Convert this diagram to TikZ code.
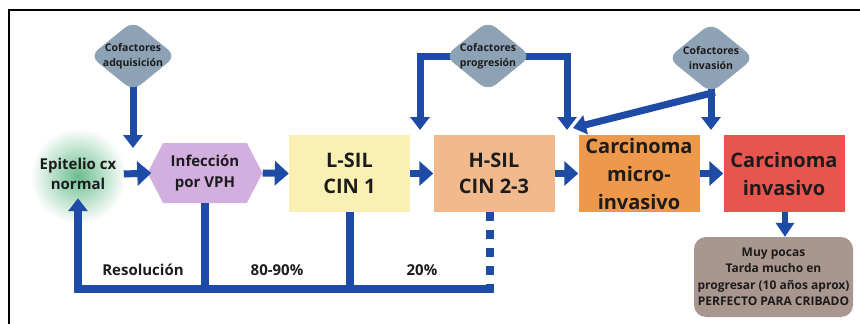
\documentclass[tikz,border=0pt]{standalone}
\usepackage{fontspec}
\setmainfont{Open Sans}
\usetikzlibrary{arrows.meta,shapes.geometric,shapes.symbols,backgrounds}

\definecolor{flowblue}{HTML}{1E4BA6}
\definecolor{cofgray}{HTML}{8EA2B6}
\definecolor{glowgreen}{HTML}{52B27D}
\definecolor{infviolet}{HTML}{D3AFE0}
\definecolor{lsilyellow}{HTML}{FAF0B3}
\definecolor{hsilpeach}{HTML}{F1B98C}
\definecolor{microorange}{HTML}{EE984B}
\definecolor{invared}{HTML}{E8554F}
\definecolor{notetaupe}{HTML}{A9968E}
\definecolor{ink}{HTML}{1C1C1C}

\tikzset{
  flow/.style={draw=flowblue, line width=7pt},
  hhead/.style={-{Triangle[width=24pt,length=14pt]}},
  vhead/.style={-{Triangle[width=19pt,length=13pt]}},
  cof/.style={diamond, fill=cofgray, rounded corners=10pt, aspect=1.23,
    inner xsep=-4pt, inner ysep=-2pt, minimum width=86pt, minimum height=70pt,
    align=center, text=ink, font=\fontsize{10.5}{15}\selectfont\bfseries},
  stage/.style={rectangle, minimum width=121pt, minimum height=77pt,
    inner sep=0pt, align=center, text=ink},
  lab/.style={text=ink, font=\fontsize{15}{20.5}\selectfont\bfseries},
}

\begin{document}
\begin{tikzpicture}[x=1pt,y=-1pt]
            \useasboundingbox (0,0) rectangle (860,324);
            \draw[line width=1.2pt] (9,324) -- (9,10) -- (860,10);

            % etapas
            \node[lab, align=center, minimum height=48pt] (epi) at (78,174) {Epitelio cx\\normal};
            \node[signal, signal to=west and east, signal pointer angle=125,
                  fill=infviolet, minimum width=115pt, minimum height=60pt, inner sep=0pt,
                  align=center, lab] (inf) at (205,173) {Infección\\por VPH};
            \node[stage, fill=lsilyellow, font=\fontsize{20}{26}\selectfont\bfseries] (lsil) at (349.5,173.5) {L-SIL\\CIN 1};
            \node[stage, fill=hsilpeach, font=\fontsize{20}{26}\selectfont\bfseries] (hsil) at (494,173.5) {H-SIL\\CIN 2-3};
            \node[stage, fill=microorange, font=\fontsize{20}{28}\selectfont\bfseries] (micro) at (639,173.5) {Carcinoma\\micro-\\invasivo};
            \node[stage, fill=invared, font=\fontsize{20}{28}\selectfont\bfseries] (inva) at (784,173.5) {Carcinoma\\invasivo};
            \node[rectangle, rounded corners=12pt, fill=notetaupe, minimum width=159pt, minimum height=80pt,
                  inner sep=0pt, align=center, text=ink, font=\fontsize{12}{16.5}\selectfont\bfseries]
                  (muy) at (773.5,277) {Muy pocas\\Tarda mucho en\\progresar (10 años aprox)\\PERFECTO PARA CRIBADO};

            % cofactores
            \node[cof] (cofa) at (133,56) {Cofactores\\adquisición};
            \node[cof] (cofp) at (488,56) {Cofactores\\progresión};
            \node[cof] (cofi) at (711,58) {Cofactores\\invasión};

            \coordinate (atip) at (133,148);
            \coordinate (pl) at (420,130);
            \coordinate (pr) at (567,130);
            \coordinate (itip) at (711,130);
            \coordinate (mtip) at (573,128);
            \coordinate (ret) at (494,289);

            \begin{scope}[on background layer]
                \shade[inner color=glowgreen!85, outer color=white] (78,176) circle (48pt);
                \draw[flow, vhead, shorten <=-6pt] (cofa.south) -- (atip);
                \draw[flow, vhead, shorten <=-6pt] (cofp.west) -| (pl);
                \draw[flow, vhead, shorten <=-6pt] (cofp.east) -| (pr);
                \draw[flow, vhead, shorten <=-6pt] (cofi.south) -- (itip);
                \draw[flow, vhead, shorten <=-4pt] (cofi.south) -- (mtip);
            \end{scope}

            % avance
            \draw[flow, hhead] ([xshift=4pt]epi.east) -- ([xshift=4pt]inf.west);
            \draw[flow, hhead] (inf.east) -- (lsil.west);
            \draw[flow, hhead] (lsil.west -| lsil.east) -- (hsil.west);
            \draw[flow, hhead] (hsil.east) -- (micro.west);
            \draw[flow, hhead] (micro.east) -- (inva.west);
            \draw[flow, line width=6pt, -{Triangle[width=18pt,length=14pt]}] ([xshift=1pt]inva.south) -- ([xshift=1pt]inva.south |- muy.north);

            % resolucion
            \draw[flow, line width=8pt] (inf.south) -- (inf.south |- ret);
            \draw[flow, line width=8pt] (lsil.south) -- (lsil.south |- ret);
            \draw[flowblue, line width=8pt, dash pattern=on 9pt off 9pt] ([xshift=-4pt]hsil.south) -- ([xshift=-4pt]hsil.south |- ret);
            \draw[flow, line width=8pt, vhead] (ret) -| (epi.south);

            \node[lab] (res) at (143,270) {Resolución};
            \node[lab] (p8090) at (277,270) {80-90\%};
            \node[lab] (p20) at (422,270) {20\%};
\end{tikzpicture}
\end{document}
